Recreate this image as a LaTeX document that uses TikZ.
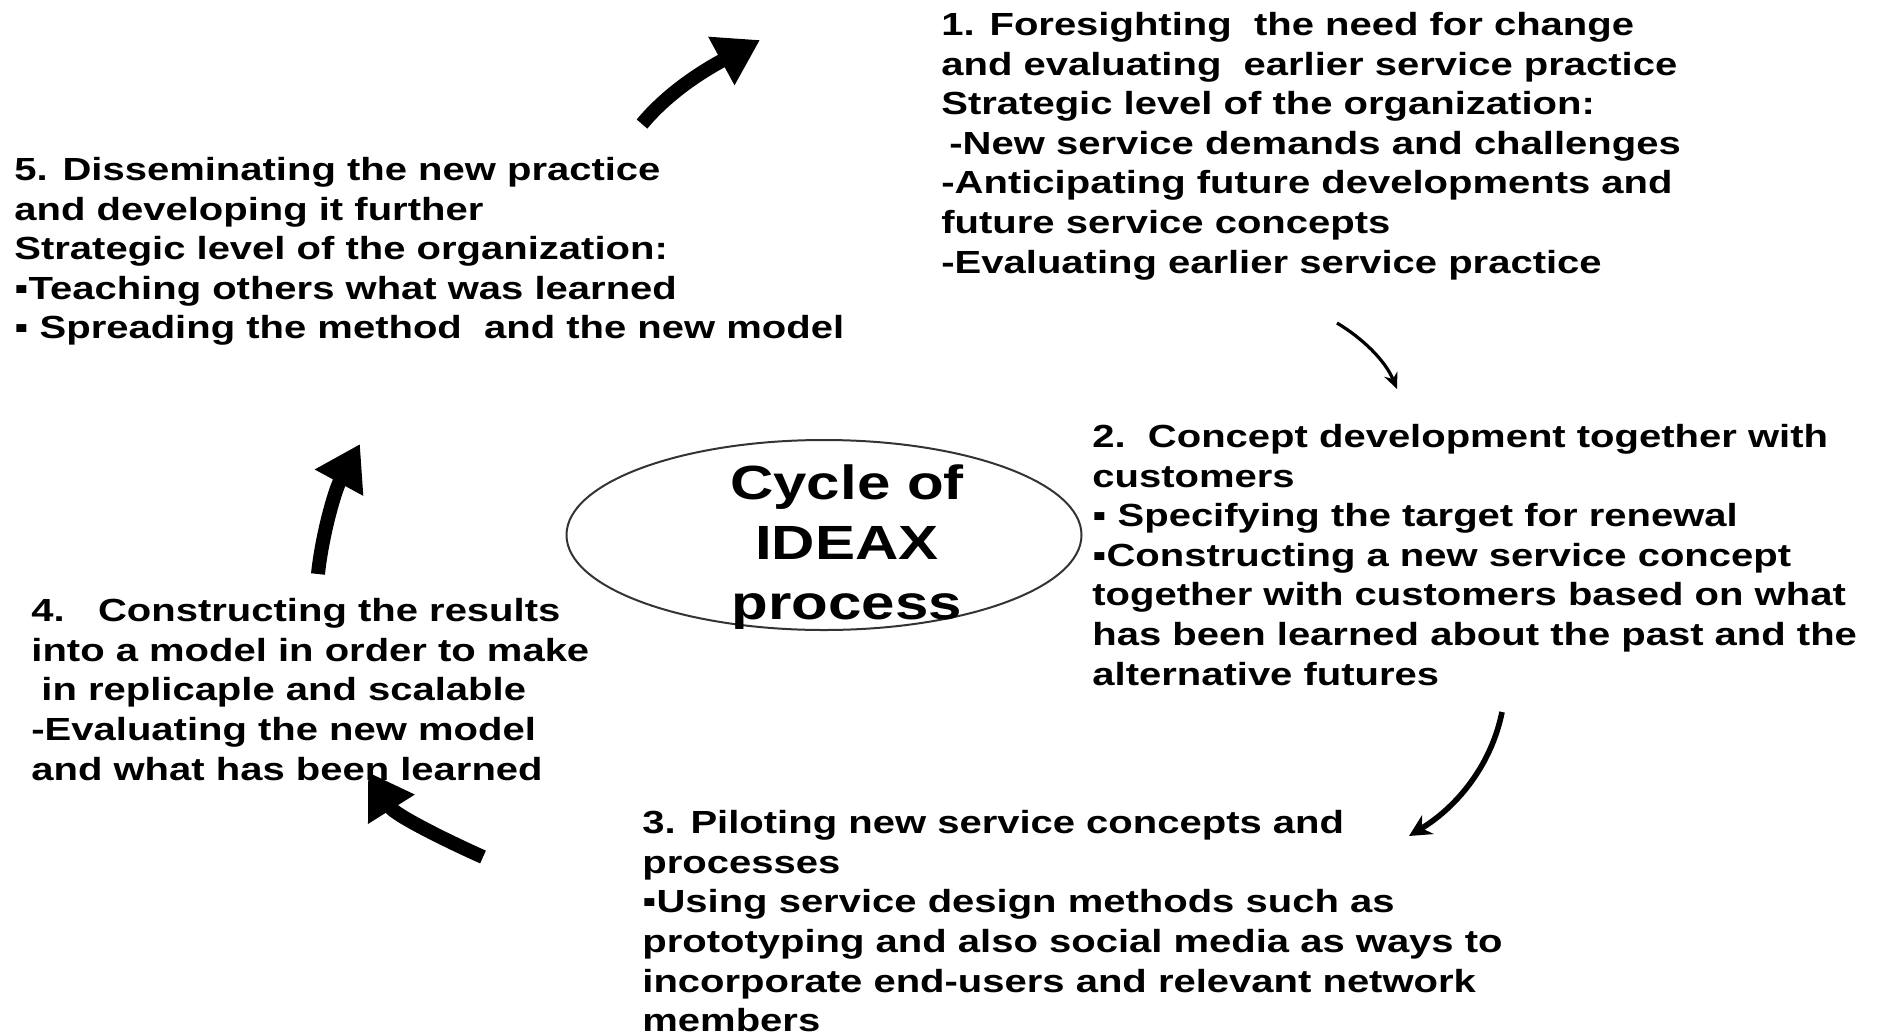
\documentclass[tikz,border=0pt]{standalone}
\usepackage{fontspec}
\setmainfont{Liberation Sans}[FakeStretch=1.25]
\usetikzlibrary{arrows.meta,shapes.geometric}

\tikzset{
  stage/.style={anchor=north west, inner sep=0pt, align=left,
    font=\fontsize{16}{19.8}\selectfont\bfseries},
  bigarrow/.style={line width=7pt, -{Triangle[length=22pt,width=26pt]}},
  thinarrow/.style={line width=1.6pt, -{Stealth[length=8pt,width=7pt]}},
  midarrow/.style={line width=2.8pt, -{Stealth[length=11pt,width=11pt]}},
}

\begin{document}
\begin{tikzpicture}[x=0.5pt,y=-0.5pt]

  \useasboundingbox (0,0) rectangle (1892,1035);

  % centre
  \node[ellipse, draw=black!80, line width=1pt, minimum width=257.5pt,
        minimum height=95pt, inner sep=0pt] (hub) at (824,535) {};
  \node[anchor=north, inner sep=0pt, align=center,
        font=\fontsize{24}{30}\selectfont\bfseries] (hubtext) at (847,464)
        {Cycle of\\IDEAX\\process};

  % the five stages
  \node[stage] (s1) at (941,12) {1. Foresighting\ \ the need for change\\
    and evaluating\ \ earlier service practice\\
    Strategic level of the organization:\\
    \hspace{4pt}-New service demands and challenges\\
    -Anticipating future developments and\\
    future service concepts\\
    -Evaluating earlier service practice};

  \node[stage] (s2) at (1092,424) {2.\ \ Concept development together with\\
    customers\\
    ▪ Specifying the target for renewal\\
    ▪Constructing a new service concept\\
    together with customers based on what\\
    has been learned about the past and the\\
    alternative futures};

  \node[stage] (s3) at (642,810) {3. Piloting new service concepts and\\
    processes\\
    ▪Using service design methods such as\\
    prototyping and also social media as ways to\\
    incorporate end-users and relevant network\\
    members};

  \node[stage] (s4) at (31,598) {4.\ \ \ Constructing the results\\
    into a model in order to make\\
    \hspace{5pt}in replicaple and scalable\\
    -Evaluating the new model\\
    and what has been learned};

  \node[stage] (s5) at (14,157) {5. Disseminating the new practice\\
    and developing it further\\
    Strategic level of the organization:\\
    ▪Teaching others what was learned\\
    ▪ Spreading the method\ \ and the new model};

  % arrow ends
  \coordinate (a12s) at (1337,323); \coordinate (a12e) at (1397,389);
  \coordinate (a23s) at (1502,712); \coordinate (a23e) at (1409,836);
  \coordinate (a34s) at (483,857);  \coordinate (a34e) at (368,772);
  \coordinate (a45s) at (318,574);  \coordinate (a45e) at (360,444);
  \coordinate (a51s) at (642,124);  \coordinate (a51e) at (760,40);

  \draw[thinarrow] (a12s) .. controls (1362,338) and (1385,360) .. (a12e); % 1->2
  \draw[midarrow] (a23s) .. controls (1492,762) and (1460,805) .. (a23e); % 2->3
  \draw[bigarrow] (a34s) .. controls (445,840) and (395,815) .. (a34e); % 3->4
  \draw[bigarrow] (a45s) .. controls (322,535) and (335,490) .. (a45e); % 4->5
  \draw[bigarrow] (a51s) .. controls (662,100) and (690,78) .. (a51e); % 5->1

\end{tikzpicture}
\end{document}
